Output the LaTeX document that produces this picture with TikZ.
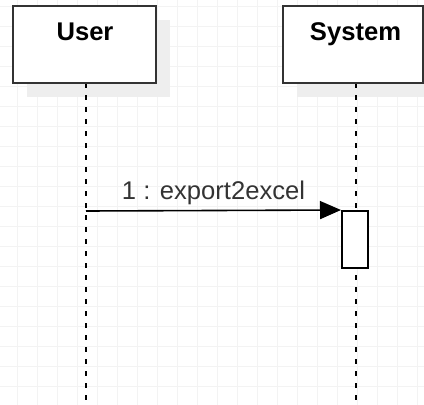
\documentclass[tikz,border=0pt]{standalone}
\usepackage{fontspec}
\setmainfont{Liberation Sans}
\usetikzlibrary{arrows.meta}
\definecolor{gridc}{HTML}{F3F3F3}
\definecolor{shadowc}{HTML}{EEEEEE}
\definecolor{borderc}{HTML}{333333}
\definecolor{labelc}{HTML}{333333}
\tikzset{
  headbox/.style={draw=borderc, line width=2pt, fill=white, minimum height=77pt, inner sep=0pt},
  headtext/.style={anchor=base, inner sep=0pt, font=\fontsize{25.6}{30}\selectfont\bfseries, text=black},
  shadowbox/.style={fill=shadowc, draw=none},
  lifeline/.style={draw=black, line width=1.6pt, dash pattern=on 5pt off 7pt},
  actbox/.style={draw=black, line width=2pt, fill=white, minimum width=26pt, minimum height=57pt, inner sep=0pt},
  msg/.style={draw=black, line width=1.6pt, -{Triangle[length=21pt,width=18pt]}},
  msgtext/.style={anchor=base, inner sep=0pt, font=\fontsize{25.6}{30}\selectfont, text=labelc}
}
\begin{document}
\begin{tikzpicture}[x=1pt,y=-1pt]
\useasboundingbox (0,0) rectangle (424,405);
\begin{scope}
\clip (0,0) rectangle (424,405);
% background grid
\foreach \gx in {17.5,37.5,...,417.5} \draw[gridc, line width=1pt] (\gx,0) -- (\gx,405);
\foreach \gy in {6.5,26.5,...,405} \draw[gridc, line width=1pt] (0,\gy) -- (424,\gy);
% shadows
\fill[shadowbox] (27,20) rectangle (170,97);
\fill[shadowbox] (297,20) rectangle (440,97);
% lifelines
\coordinate (ut) at (86,83);
\coordinate (ub) at (86,405);
\coordinate (st) at (356,83);
\coordinate (sb) at (356,405);
\draw[lifeline] (ut) -- (ub);
\draw[lifeline] (st) -- (sb);
% header boxes
\node[headbox, minimum width=143pt] (user) at (84.5,44.5) {};
\node[headbox, minimum width=140pt] (system) at (353,44.5) {};
\node[headtext] (usertext) at (85,40.5) {User};
\node[headtext] (systemtext) at (355.5,40.5) {System};
% activation
\node[actbox] (act) at (355,239.5) {};
% message
\coordinate (m1) at (86,211);
\draw[msg] (m1) -- (act.north west);
\node[msgtext] (msglabel) at (213.5,199.5) {1 : export2excel};
\end{scope}
\end{tikzpicture}
\end{document}
